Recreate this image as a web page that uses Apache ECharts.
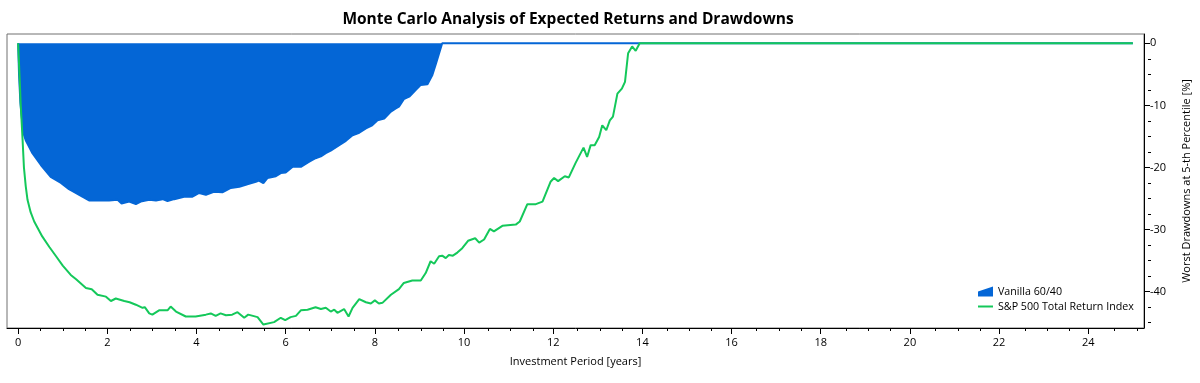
<!DOCTYPE html>
<html>
<head>
<meta charset="utf-8">
<script src="https://cdn.jsdelivr.net/npm/echarts@6/dist/echarts.min.js"></script>
<style>html,body{margin:0;padding:0;background:#fff}#c{width:1200px;height:383px}</style>
</head>
<body>
<div id="c"></div>
<script>
const chartTitle = 'Monte Carlo Analysis of Expected Returns and Drawdowns';
const xAxisName = 'Investment Period [years]';
const yAxisName = 'Worst Drawdowns at 5-th Percentile [%]';
const seriesNames = ['Vanilla 60/40', 'S&P 500 Total Return Index'];
const xMajorTicks = [0, 2, 4, 6, 8, 10, 12, 14, 16, 18, 20, 22, 24];
const xMinorTicks = [0.5, 1, 1.5, 2.5, 3, 3.5, 4.5, 5, 5.5, 6.5, 7, 7.5, 8.5, 9, 9.5, 10.5, 11, 11.5, 12.5, 13, 13.5, 14.5, 15, 15.5, 16.5, 17, 17.5, 18.5, 19, 19.5, 20.5, 21, 21.5, 22.5, 23, 23.5, 24.5, 25];
const yMajorTicks = [0, -10, -20, -30, -40];
const yMinorTicks = [-2.5, -5, -7.5, -12.5, -15, -17.5, -22.5, -25, -27.5, -32.5, -35, -37.5, -42.5, -45];

const vanillaYears = [0, 0.02, 0.05, 0.08, 0.12, 0.17, 0.32, 0.51, 0.73, 0.96, 1.14, 1.37, 1.59, 1.82, 2.04, 2.23, 2.32, 2.49, 2.64, 2.75, 2.94, 3.09, 3.24, 3.35, 3.50, 3.72, 3.91, 4.06, 4.21, 4.39, 4.58, 4.77, 4.96, 5.14, 5.33, 5.40, 5.50, 5.59, 5.78, 5.89, 6.00, 6.15, 6.34, 6.52, 6.67, 6.79, 6.90, 7.01, 7.20, 7.35, 7.50, 7.65, 7.80, 7.94, 8.06, 8.21, 8.36, 8.47, 8.54, 8.65, 8.77, 8.92, 9.03, 9.18, 9.29, 9.37, 9.51, 25];
const vanillaDrawdown = [0, -5, -9.5, -11.8, -14.5, -15.6, -17.7, -19.6, -21.5, -22.5, -23.5, -24.4, -25.3, -25.3, -25.3, -25.2, -25.8, -25.5, -25.9, -25.5, -25.2, -25.3, -25.1, -25.4, -25.1, -24.7, -24.7, -24.1, -24.4, -23.9, -24.0, -23.3, -23.1, -22.7, -22.3, -22.1, -22.5, -21.7, -21.4, -20.9, -20.8, -19.9, -19.9, -19.1, -18.5, -18.2, -17.7, -17.3, -16.4, -15.7, -14.8, -14.4, -13.7, -13.2, -12.4, -12.1, -11.0, -10.5, -10.2, -9.0, -8.6, -7.5, -6.7, -6.6, -5.1, -3.3, 0, 0];

const spYears = [0, 0.03, 0.06, 0.10, 0.13, 0.17, 0.21, 0.28, 0.36, 0.54, 0.7, 0.85, 1.0, 1.18, 1.3, 1.52, 1.65, 1.78, 1.97, 2.08, 2.19, 2.38, 2.5, 2.64, 2.79, 2.84, 2.94, 3.01, 3.16, 3.35, 3.42, 3.54, 3.76, 3.98, 4.21, 4.32, 4.43, 4.54, 4.66, 4.8, 4.92, 5.07, 5.16, 5.37, 5.50, 5.74, 5.89, 5.99, 6.11, 6.23, 6.34, 6.49, 6.67, 6.79, 6.90, 7.01, 7.09, 7.16, 7.31, 7.41, 7.50, 7.65, 7.80, 7.91, 8.00, 8.09, 8.17, 8.36, 8.54, 8.65, 8.84, 9.03, 9.14, 9.25, 9.33, 9.44, 9.51, 9.59, 9.66, 9.75, 9.85, 9.96, 10.09, 10.25, 10.34, 10.45, 10.58, 10.67, 10.86, 11.16, 11.25, 11.42, 11.61, 11.76, 11.94, 12.02, 12.11, 12.26, 12.35, 12.50, 12.68, 12.76, 12.84, 12.93, 13.03, 13.10, 13.19, 13.27, 13.34, 13.44, 13.54, 13.61, 13.68, 13.77, 13.85, 13.94, 25];
const spDrawdown = [0, -5, -10.2, -15.6, -20, -23, -25.2, -27.2, -28.7, -31.1, -32.8, -34.3, -35.8, -37.3, -38, -39.4, -39.6, -40.5, -40.8, -41.5, -41.1, -41.5, -41.7, -42.1, -42.6, -42.5, -43.5, -43.7, -43.0, -43.0, -42.4, -43.2, -44.0, -44.0, -43.7, -43.5, -43.9, -43.5, -43.8, -43.7, -43.3, -44.2, -43.7, -44.1, -45.3, -44.9, -44.2, -44.6, -44.1, -43.9, -43.0, -42.9, -42.5, -42.8, -42.6, -43.2, -42.9, -43.4, -42.8, -44.0, -42.6, -41.2, -41.7, -41.9, -41.4, -41.9, -41.8, -40.5, -39.6, -38.6, -38.2, -38.2, -37.0, -35.1, -35.5, -34.3, -34.2, -34.6, -34.1, -34.2, -33.7, -33.0, -31.8, -31.4, -32.1, -31.6, -29.9, -30.3, -29.4, -29.2, -28.7, -25.9, -25.9, -25.5, -22.3, -21.7, -22.2, -21.4, -21.6, -19.3, -16.8, -18.3, -16.4, -16.4, -15.1, -13.2, -14.0, -12.4, -11.8, -8.1, -7.3, -6.2, -1.6, -0.5, -1.2, 0, 0];

const FONT = 'Open Sans';
const BLUE = '#0466d6';
const GREEN = '#14c85a';

const zip = (xs, ys) => xs.map((x, i) => [x, ys[i]]);

const xRange = { min: -0.25, max: 25.25 };
const yRange = { min: -45.85, max: 1.5 };
const gridRect = { left: 7, right: 52, top: 34, bottom: 55 };

const chart = echarts.init(document.getElementById('c'), null, { renderer: 'canvas' });
chart.setOption({
  animation: false,
  backgroundColor: '#fff',
  textStyle: { fontFamily: FONT },
  title: {
    text: chartTitle,
    left: 563, top: 7, textAlign: 'center',
    textStyle: { fontFamily: FONT, fontSize: 15.5, fontWeight: 'bold', color: '#000' }
  },
  grid: [
    { ...gridRect, show: true, borderColor: '#707070', borderWidth: 1, backgroundColor: 'transparent' },
    { ...gridRect, show: false }
  ],
  legend: {
    orient: 'vertical', left: 978, top: 286, padding: 0, itemGap: 4, itemWidth: 15, itemHeight: 10,
    textStyle: { fontFamily: FONT, fontSize: 10.7, color: '#000' },
    data: [
      { name: seriesNames[0], icon: 'path://M0,10 L0,5 L15,0 L15,10 Z', itemStyle: { color: BLUE } },
      { name: seriesNames[1], icon: 'path://M0,0 L15,0 L15,2 L0,2 Z', itemStyle: { color: GREEN } }
    ]
  },
  xAxis: [
    {
      gridIndex: 0, type: 'value', ...xRange, position: 'bottom',
      name: xAxisName, nameLocation: 'middle', nameGap: 28,
      nameTextStyle: { fontFamily: FONT, fontSize: 11, color: '#000' },
      axisLine: { show: true, onZero: false, lineStyle: { color: '#000', width: 1 } },
      axisTick: { show: true, customValues: xMajorTicks, length: 6, lineStyle: { color: '#000' } },
      axisLabel: { customValues: xMajorTicks, margin: 9, fontFamily: FONT, fontSize: 11, color: '#000' },
      splitLine: { show: false }
    },
    {
      gridIndex: 1, type: 'value', ...xRange, position: 'bottom',
      axisLine: { show: false, onZero: false },
      axisTick: { show: true, customValues: xMinorTicks, length: 3, lineStyle: { color: '#000' } },
      axisLabel: { show: false },
      splitLine: { show: false }
    }
  ],
  yAxis: [
    {
      gridIndex: 0, type: 'value', ...yRange, position: 'right',
      name: yAxisName, nameLocation: 'middle', nameGap: 37, nameRotate: 90,
      nameTextStyle: { fontFamily: FONT, fontSize: 11, color: '#000' },
      axisLine: { show: true, onZero: false, lineStyle: { color: '#000', width: 1 } },
      axisTick: { show: true, customValues: yMajorTicks, length: 6, lineStyle: { color: '#000' } },
      axisLabel: { customValues: yMajorTicks, margin: 6, fontFamily: FONT, fontSize: 11, color: '#000' },
      splitLine: { show: false }
    },
    {
      gridIndex: 1, type: 'value', ...yRange, position: 'right',
      axisLine: { show: false, onZero: false },
      axisTick: { show: true, customValues: yMinorTicks, length: 3, lineStyle: { color: '#000' } },
      axisLabel: { show: false },
      splitLine: { show: false }
    }
  ],
  series: [
    {
      name: seriesNames[0], type: 'line', xAxisIndex: 0, yAxisIndex: 0,
      data: zip(vanillaYears, vanillaDrawdown),
      showSymbol: false, symbol: 'none',
      lineStyle: { color: BLUE, width: 2 },
      itemStyle: { color: BLUE },
      areaStyle: { color: BLUE, opacity: 1, origin: 0 }
    },
    {
      name: seriesNames[1], type: 'line', xAxisIndex: 0, yAxisIndex: 0,
      data: zip(spYears, spDrawdown),
      showSymbol: false, symbol: 'none',
      lineStyle: { color: GREEN, width: 2 },
      itemStyle: { color: GREEN }
    }
  ]
});
</script>
</body>
</html>
